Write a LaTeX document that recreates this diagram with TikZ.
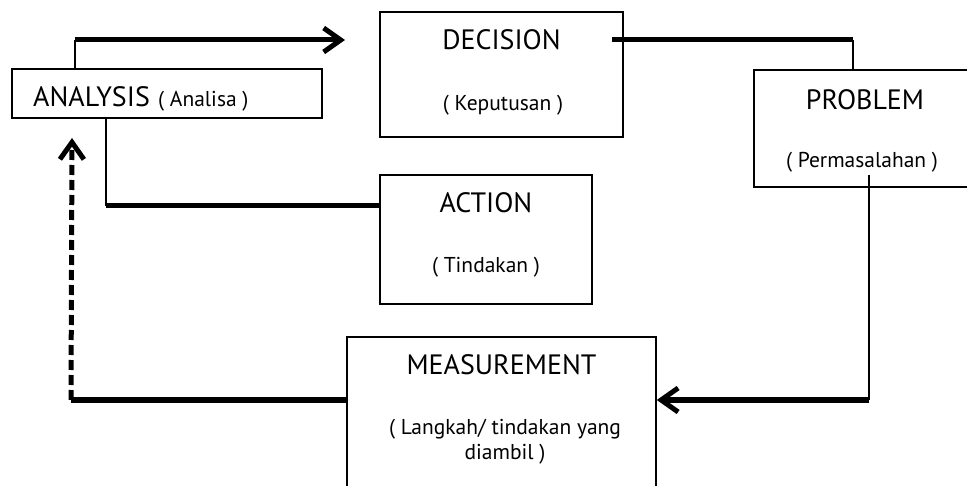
\documentclass[tikz,border=0pt]{standalone}
\usepackage{fontspec}
\setmainfont{PT Sans}
\usetikzlibrary{arrows.meta}

\begin{document}
\begin{tikzpicture}[x=1pt, y=-1pt,
		box/.style={draw, line width=1.6pt, inner sep=0pt},
		big/.style={anchor=base, inner sep=0pt, font=\fontsize{28}{33}\selectfont},
		small/.style={anchor=base, inner sep=0pt, align=center, font=\fontsize{21.5}{25}\selectfont},
		thinline/.style={line width=2pt},
		thickline/.style={line width=5pt},
		tip/.style={-{Straight Barb[length=17pt, width=24pt]}}
	]
		\useasboundingbox (0,0) rectangle (967,486);
		\clip (0,0) rectangle (967,486);
		
		\begin{scope}
		\node [box, minimum width=310pt, minimum height=49pt] (analysis) at (167,93.5) {};
		\node [box, minimum width=243pt, minimum height=125pt] (decision) at (501.5,74.5) {};
		\node [box, minimum width=219pt, minimum height=117pt] (problem) at (863.5,128.5) {};
		\node [box, minimum width=212pt, minimum height=129pt] (action) at (486,239.5) {};
		\node [box, minimum width=309pt, minimum height=163pt] (measurement) at (501.5,418.5) {};
		\end{scope}
		
		\begin{scope}
		\node [big, anchor=base west] (analysis-title) at (33,107) {ANALYSIS};
		\node [small, anchor=base west] (analysis-sub) at (158,107) {( Analisa )};
		\node [big] (decision-title) at (501.5,50) {DECISION};
		\node [small] (decision-sub) at (503,111) {( Keputusan )};
		\node [big] (problem-title) at (865,110) {PROBLEM};
		\node [small] (problem-sub) at (862,168) {( Permasalahan )};
		\node [big] (action-title) at (486,213) {ACTION};
		\node [small] (action-sub) at (486,273) {( Tindakan )};
		\node [big] (measurement-title) at (501.5,374) {MEASUREMENT};
		\node [small] (measurement-sub) at (505,459) {( Langkah/ tindakan yang\\diambil )};
		\end{scope}
		
		\begin{scope}
		\coordinate (analysis-up) at (75,40);
		\coordinate (analysis-tip) at (345,40);
		\draw [thinline] (analysis.north -| analysis-up) -- (analysis-up);
		\draw [thickline, tip] (analysis-up) -- (analysis-tip);
		
		\coordinate (decision-out) at (612,40);
		\coordinate (decision-corner) at (853,40);
		\draw [thickline] (decision-out) -- (decision-corner);
		\draw [thinline] (decision-corner) -- (problem.north -| decision-corner);
		
		\coordinate (problem-out) at (869,175);
		\coordinate (problem-corner) at (869,400);
		\draw [thinline] (problem-out) -- (problem-corner);
		\draw [thickline, tip] (problem-corner) -- (measurement.east |- problem-corner);
		
		\coordinate (measurement-corner) at (71,400);
		\coordinate (measurement-tip) at (72,138);
		\draw [thickline] (measurement.west |- measurement-corner) -- (measurement-corner);
		\draw [line width=5pt, dash pattern=on 10pt off 5pt, tip] (measurement-corner) -- (measurement-tip);
		
		\coordinate (action-corner) at (106,206);
		\draw [thinline] (analysis.south -| action-corner) -- (action-corner);
		\draw [thickline] (action-corner) -- (action.west |- action-corner);
		\end{scope}
	\end{tikzpicture}
\end{document}
